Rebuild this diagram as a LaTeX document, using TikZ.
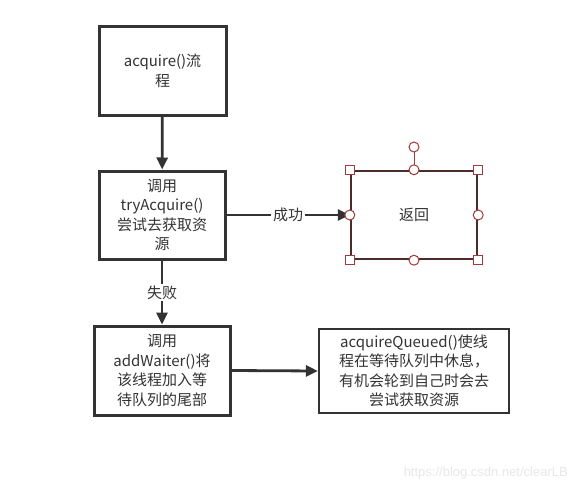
\documentclass[tikz,border=0pt]{standalone}
\usepackage{fontspec}
\setmainfont{Noto Sans CJK SC}
\newfontfamily\wmfont{Liberation Sans}
\usetikzlibrary{arrows.meta}
\definecolor{ink}{HTML}{333333}
\definecolor{selred}{HTML}{A33A3A}
\definecolor{selbox}{HTML}{4A2C2C}
\begin{document}
\begin{tikzpicture}[x=1pt,y=-1pt,
  box/.style={draw=ink,line width=3pt,fill=white,align=center,text=ink,font=\fontsize{15}{19.5}\selectfont,inner sep=0pt},
  conn/.style={draw=ink,line width=2.8pt,-{Triangle[length=12pt,width=11pt]}},
  lbl/.style={fill=white,text=ink,font=\fontsize{15}{19}\selectfont,inner sep=2pt},
  hsq/.style={draw=selred,fill=white,line width=1pt,minimum size=9pt,inner sep=0pt,rectangle},
  hci/.style={draw=selred,fill=white,line width=1pt,minimum size=10pt,inner sep=0pt,circle}]
\useasboundingbox (0,0) rectangle (578,495);
\fill[white] (0,0) rectangle (578,495);
\node[box,minimum width=127pt,minimum height=88pt] (a) at (162.5,71) {acquire()流\\程};
\node[box,minimum width=126pt,minimum height=88pt] (b) at (162,215) {调用\\tryAcquire()\\尝试去获取资\\源};
\node[box,draw=selbox,line width=2.4pt,minimum width=126pt,minimum height=88pt] (r) at (414,215) {返回};
\node[box,minimum width=136pt,minimum height=89pt] (c) at (162,370.5) {调用\\addWaiter()将\\该线程加入等\\待队列的尾部};
\node[box,line width=2.2pt,minimum width=190pt,minimum height=84pt] (d) at (414,371) {acquireQueued()使线\\程在等待队列中休息，\\有机会轮到自己时会去\\尝试获取资源};
\draw[conn] (a) -- (b);
\draw[conn] (b.east) -- node[lbl]{成功} (r.west);
\draw[conn] (b) -- node[lbl]{失败} (c);
\draw[conn] (c.east) -- (d.west);
% selection handles
\coordinate (rot) at (414,147);
\draw[selred,line width=1pt] (r.north) -- (rot);
\node[hci] at (rot) {};
\foreach \p in {north west,north east,south west,south east} \node[hsq] at (r.\p) {};
\foreach \p in {north,south,east,west} \node[hci] at (r.\p) {};
\node[text=black!9,font=\wmfont\fontsize{13}{15}\selectfont,anchor=east,inner sep=0pt] (wm) at (568,473) {https://blog.csdn.net/clearLB};
\end{tikzpicture}
\end{document}
